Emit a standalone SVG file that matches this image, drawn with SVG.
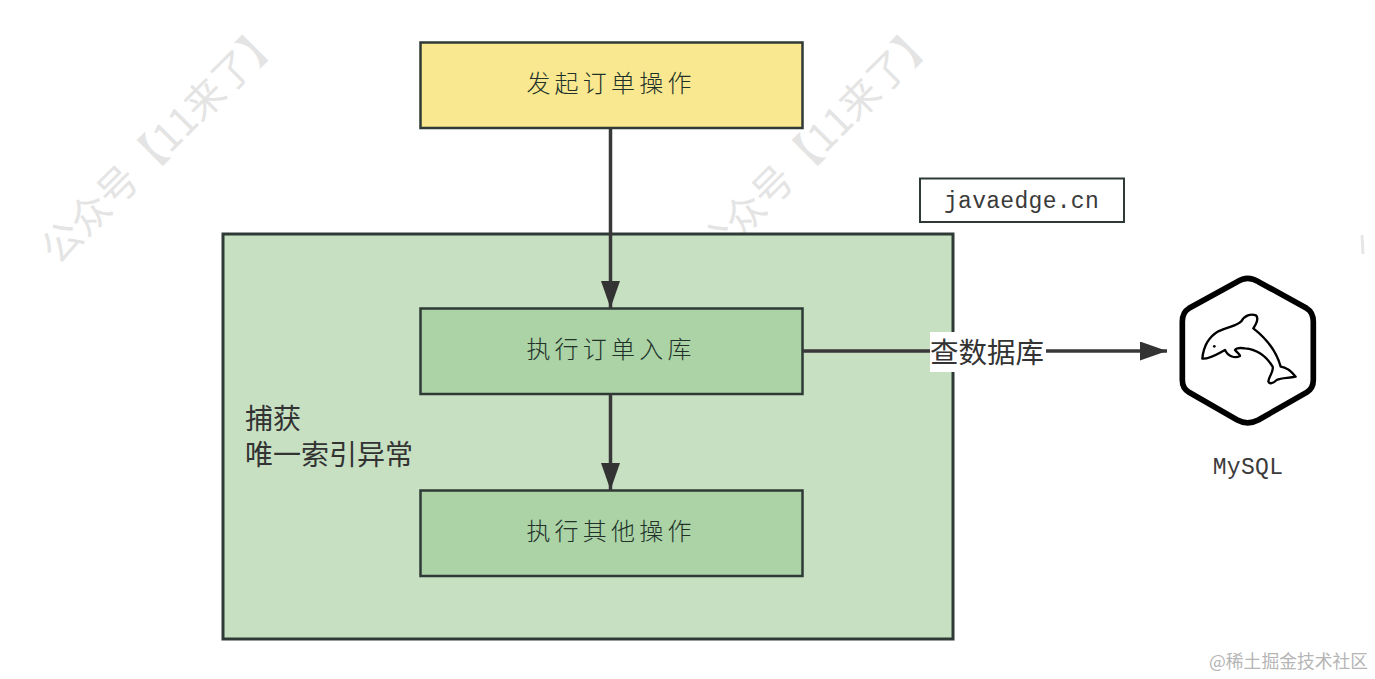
<svg xmlns="http://www.w3.org/2000/svg" width="1375" height="679" viewBox="0 0 1375 679">
<style>
.box{stroke:#2f3a36;stroke-width:2.5}
.cjk{font-family:"Noto Sans CJK SC","Noto Sans",sans-serif}
.lbl{font-size:24px;letter-spacing:4.2px;fill:#22322a;text-anchor:middle;font-weight:300}
.big{font-size:28px;fill:#333}
.mono{font-family:"Liberation Mono",monospace;font-size:23px;fill:#3a3a3a;text-anchor:middle}
.wm{font-size:39.5px;fill:#e4e4e4;font-weight:400}
.line{fill:none;stroke:#383838;stroke-width:3.5}
</style>
<defs>
<marker id="arrow" markerUnits="userSpaceOnUse" markerWidth="28" markerHeight="20" refX="27" refY="9.5" orient="auto">
<path d="M0 0L27 9.5L0 19Z" fill="#333"/>
</marker>
</defs>
<rect width="1375" height="679" fill="#fff"/>
<g id="watermarks">
<text class="cjk wm" transform="translate(58 266) rotate(-45)">公众号【11来了】</text>
<text class="cjk wm" transform="translate(713 266) rotate(-45)">公众号【11来了】</text>
<path d="M1362 235L1363 254" stroke="#e6e6e6" stroke-width="3" fill="none"/>
</g>
<g id="outer">
<rect class="box" x="223" y="234" width="730" height="405" fill="#c7e0c2" style="stroke-width:3"/>
<text class="cjk big"><tspan x="245" y="429">捕获</tspan><tspan x="245" y="465">唯一索引异常</tspan></text>
</g>
<g id="start">
<rect class="box" x="420.5" y="42.5" width="382" height="85.5" fill="#f9e88f"/>
<text class="cjk lbl" x="611" y="92">发起订单操作</text>
</g>
<g id="insert">
<rect class="box" x="420.5" y="308.5" width="382" height="85.5" fill="#abd3a6"/>
<text class="cjk lbl" x="611" y="358">执行订单入库</text>
</g>
<g id="other">
<rect class="box" x="420.5" y="490.5" width="382" height="85.5" fill="#abd3a6"/>
<text class="cjk lbl" x="611" y="540">执行其他操作</text>
</g>
<g id="site">
<rect x="920" y="178.5" width="204" height="43.5" fill="#fff" stroke="#2f3a36" stroke-width="2"/>
<text class="mono" x="1021.5" y="208" letter-spacing="0.3">javaedge.cn</text>
</g>
<g id="connectors">
<path class="line" d="M610.5 128V308" marker-end="url(#arrow)"/>
<path class="line" d="M610.5 394V490" marker-end="url(#arrow)"/>
<path class="line" d="M803 351H1167" marker-end="url(#arrow)"/>
<rect x="930" y="332" width="116" height="40" fill="#fff"/>
<text class="cjk big" x="930" y="363" style="font-size:28.5px">查数据库</text>
</g>
<g id="mysql">
<g transform="translate(1150 260) scale(.3333)" fill="none" stroke="#000" stroke-linejoin="round">
<path stroke-width="17" d="M262 65Q293 45 325 65L470 145Q490 157 490 185V360Q490 385 470 397L325 480Q293 497 262 480L117 397Q97 385 97 360V185Q97 157 117 145Z" fill="#fff"/>
<path stroke-width="7" d="M157 296C160 262 175 232 205 214C235 200 262 198 274 184C284 166 302 160 318 166C326 174 320 190 310 205C345 232 378 270 392 320C410 322 425 335 437 350C415 355 395 352 380 360C370 370 358 374 355 364C358 345 372 335 368 320C350 290 320 268 285 265C270 263 258 265 255 270C262 278 272 284 270 288C255 296 235 290 225 270C205 280 180 298 157 296Z"/>
<circle cx="193" cy="259" r="4" fill="#000" stroke="none"/>
</g>
<text class="mono" x="1248" y="474" letter-spacing="0.3">MySQL</text>
</g>
<text class="cjk" x="1209" y="668" font-size="17.8" fill="#b5b5b5">@稀土掘金技术社区</text>
</svg>
